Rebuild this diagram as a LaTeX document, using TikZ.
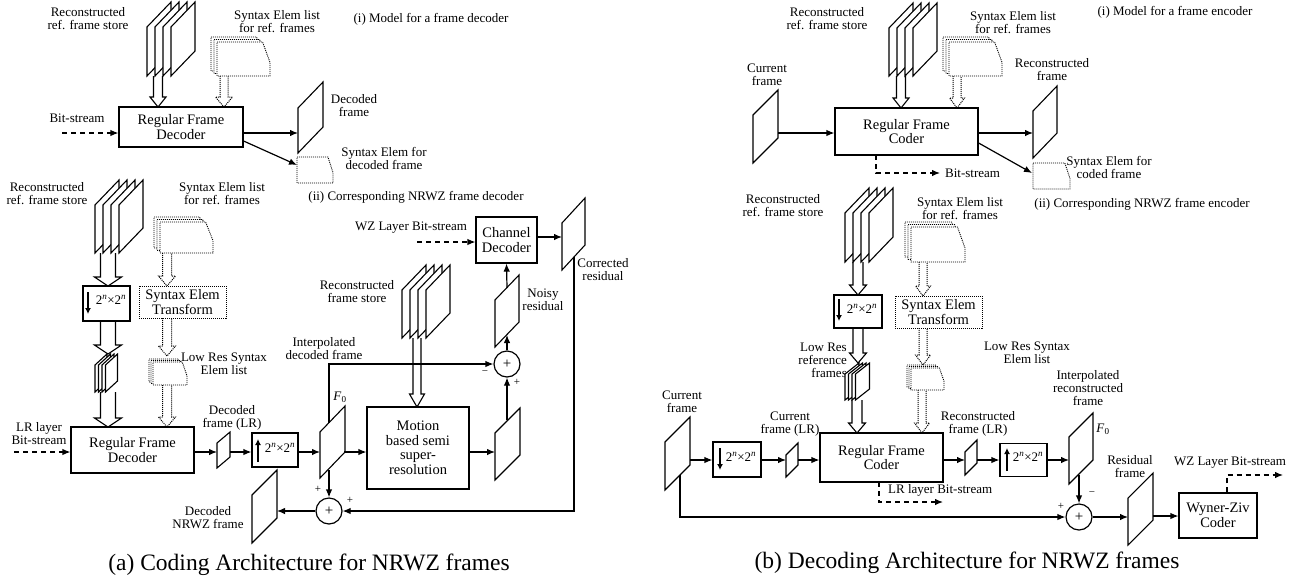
\documentclass[tikz,border=0pt]{standalone}
\usepackage{fontspec}
\setmainfont{Liberation Serif}
\usetikzlibrary{arrows.meta,calc}
\newcommand\pframe[5]{\draw[frm] (#1,#2+#4) -- (#1+#3,#2) -- (#1+#3,#2+#5) -- (#1,#2+#4+#5) -- cycle;}
\newcommand\synshape[4]{\draw[syn] (#1,#2) -- ({#1+0.86*#3},#2) -- (#1+#3,{#2+0.6*#4}) -- (#1+#3,#2+#4) -- (#1,#2+#4) -- cycle;}
\newcommand\synstack[6]{\synshape{#1-2*#5}{#2-2*#6}{#3}{#4}\synshape{#1-#5}{#2-#6}{#3}{#4}\synshape{#1}{#2}{#3}{#4}}
\newcommand\harrow[7]{\draw[#1] ({#2-#5/2},#3) -- ({#2-#5/2},{#4-#7}) -- ({#2-#6/2},{#4-#7}) -- (#2,#4) -- ({#2+#6/2},{#4-#7}) -- ({#2+#5/2},{#4-#7}) -- ({#2+#5/2},#3);}
\newcommand\nn{2\textsuperscript{\textit{n}}×2\textsuperscript{\textit{n}}}
\begin{document}
\begin{tikzpicture}[x=1pt,y=-1pt,
 lab/.style={font=\fontsize{13}{13}\selectfont, align=center, inner sep=0pt},
 sgn/.style={font=\fontsize{11}{11}\selectfont, inner sep=0pt},
 captxt/.style={font=\fontsize{23.5}{24}\selectfont, inner sep=0pt},
 blk/.style={draw, line width=1.2pt, fill=white, align=center, font=\fontsize{14.5}{14.5}\selectfont, inner sep=0pt},
 dblk/.style={blk, line width=1pt, dash pattern=on 1pt off 1pt},
 arr/.style={line width=1.2pt, -{Latex[length=8pt,width=6.5pt]}},
 dsh/.style={arr, dash pattern=on 5pt off 4pt},
 frm/.style={draw, line width=1.1pt, fill=white},
 syn/.style={draw, line width=0.9pt, fill=white, dash pattern=on 1pt off 1pt},
 hol/.style={draw, line width=1.1pt},
 hold/.style={hol, line width=1pt, dash pattern=on 1pt off 1pt},
 inarr/.style={line width=1.4pt, -{Latex[length=6pt,width=6pt]}},
 sumc/.style={circle, draw, line width=1.2pt, minimum size=26pt, inner sep=0pt, font=\fontsize{15}{15}\selectfont},
]
\fill[white] (0,0) rectangle (1300,579);
\useasboundingbox (0,0) rectangle (1300,579);

%% ================= PANEL (a) top =================
\node[lab] at (88,18.5) {Reconstructed\\ref. frame store};
\node[lab] at (277,21.5) {Syntax Elem list\\for ref. frames};
\node[lab] at (431,19) {(i) Model for a frame decoder};
\foreach \i in {0,...,3} {\pframe{147+8*\i}{2}{24}{25}{49}}
\synstack{217}{42}{53}{34}{3}{2.5}
\harrow{hol}{158}{76}{107}{9}{16}{10}
\harrow{hold}{224}{76}{107}{8}{17}{10}
\node[blk, minimum width=124pt, minimum height=40pt] (rfd1) at (181,127) {Regular Frame\\Decoder};
\node[lab] at (77,118) {Bit-stream};
\coordinate (bsA) at (62,133);
\draw[dsh] (bsA) -- (rfd1.west |- bsA);
\pframe{298}{82}{25}{26}{45}
\coordinate (dfA) at (298,133);
\draw[arr] (rfd1.east |- dfA) -- (dfA);
\node[lab] at (354,106) {Decoded\\frame};
\synshape{297}{157}{36}{26}
\coordinate (sdA) at (297,165);
\draw[arr] ($(rfd1.east)+(0,14)$) -- (sdA);
\node[lab] at (384,158.5) {Syntax Elem for\\decoded frame};
\node[lab] at (416,197) {(ii) Corresponding NRWZ frame decoder};

%% ================= PANEL (a) bottom =================
\node[lab] at (47,194) {Reconstructed\\ref. frame store};
\node[lab] at (222,194) {Syntax Elem list\\for ref. frames};
\foreach \i in {0,...,3} {\pframe{95+8*\i}{180}{24}{25}{48}}
\synstack{160}{222}{53}{31}{3}{2.5}
\harrow{hol}{108}{253}{286}{15}{27}{9}
\harrow{hold}{167}{253}{286}{9}{17}{10}
\node[blk, minimum width=47pt, minimum height=35pt] (dnA) at (106.5,303.5) {};
\draw[inarr] (88,292) -- (88,314);
\node[lab] at (111,300) {\nn};
\node[dblk, minimum width=87pt, minimum height=32pt] (trA) at (182.5,302) {Syntax Elem\\Transform};
\harrow{hol}{108}{321}{354}{15}{27}{9}
\harrow{hold}{167}{318}{356}{9}{17}{10}
\foreach \i in {0,...,3} {\pframe{95+3.5*\i}{354}{12}{11}{27}}
\synstack{153}{362}{34}{23}{2}{1.5}
\node[lab] at (224,363.5) {Low Res Syntax\\Elem list};
\harrow{hol}{108}{392}{427}{15}{27}{9}
\harrow{hold}{167}{385}{427}{9}{17}{10}
\node[blk, minimum width=123pt, minimum height=46pt] (rfd2) at (132.5,450) {Regular Frame\\Decoder};
\node[lab] at (39,434) {LR layer\\Bit-stream};
\coordinate (lrin) at (14,452);
\draw[dsh] (lrin) -- (rfd2.west |- lrin);
\pframe{217}{432}{13}{11}{25}
\node[lab] at (232,417.5) {Decoded\\frame (LR)};
\coordinate (lrA) at (217,452);
\coordinate (lrAr) at (230,452);
\draw[arr] (rfd2.east |- lrA) -- (lrA);
\node[blk, minimum width=46pt, minimum height=34pt] (upA) at (275,450) {};
\draw[inarr] (258,462) -- (258,439);
\node[lab] at (280,448) {\nn};
\draw[arr] (lrAr) -- (upA.west |- lrAr);
\pframe{320}{406}{25}{26}{46}
\node at (340,397) {\fontsize{13}{13}\selectfont\textit{F}\textsubscript{0}};
\coordinate (f0Al) at (320,452);
\coordinate (f0Ar) at (344,452);
\coordinate (f0At) at (329,423);
\coordinate (f0Ab) at (329,470);
\draw[arr] (upA.east |- f0Al) -- (f0Al);
% middle stack
\node[lab] at (357,291.5) {Reconstructed\\frame store};
\foreach \i in {0,...,3} {\pframe{402+8*\i}{265}{24}{25}{48}}
\harrow{hol}{417}{338}{407}{8}{15}{13}
\node[blk, minimum width=102pt, minimum height=82pt] (mot) at (418,448) {Motion\\based semi\\super-\\resolution};
\draw[arr] (f0Ar) -- (mot.west |- f0Ar);
\pframe{495}{408}{25}{25}{47}
\coordinate (rpAl) at (495,452);
\coordinate (rpAt) at (507,420);
\draw[arr] (mot.east |- rpAl) -- (rpAl);
\node[sumc] (s1) at (507,364) {+};
\draw[arr] (rpAt) -- (s1.south);
\node[lab] at (324,348.5) {Interpolated\\decoded frame};
\draw[arr] (f0At) -- (329,364) -- (s1.west);
\node[sgn] at (485,373) {−};
\node[sgn] at (517,382) {+};
\pframe{495}{275}{24}{25}{47}
\coordinate (nzb) at (507,335);
\coordinate (nzt) at (507,288);
\draw[arr] (s1.north) -- (nzb);
\node[lab] at (543,299.5) {Noisy\\residual};
\node[blk, minimum width=61pt, minimum height=46pt] (chd) at (506.5,240) {Channel\\Decoder};
\draw[arr] (nzt) -- (chd.south);
\node[lab] at (411,228) {WZ Layer Bit-stream};
\coordinate (wzin) at (417,242);
\draw[dsh] (wzin) -- (chd.west |- wzin);
\pframe{562}{198}{23}{25}{47}
\coordinate (crl) at (562,237);
\draw[arr] (chd.east |- crl) -- (crl);
\node[lab] at (603,270) {Corrected\\residual};
\node[sumc] (s2) at (329,511) {+};
\coordinate (crb) at (574,257);
\draw[arr] (crb) -- (574,511) -- (s2.east);
\draw[arr] (f0Ab) -- (s2.north);
\node[sgn] at (318,489) {+};
\node[sgn] at (350,500) {+};
\pframe{252}{470}{25}{25}{48}
\coordinate (nrA) at (277,511);
\draw[arr] (s2.west) -- (nrA);
\node[lab] at (208,517.5) {Decoded\\NRWZ frame};
\node[captxt] at (309,565) {(a) Coding Architecture for NRWZ frames};

%% ================= PANEL (b) top =================
\node[lab] at (827,18.5) {Reconstructed\\ref. frame store};
\node[lab] at (1013,22.5) {Syntax Elem list\\for ref. frames};
\node[lab] at (1175,12) {(i) Model for a frame encoder};
\foreach \i in {0,...,3} {\pframe{889+8*\i}{3}{24}{25}{48}}
\synstack{949}{42}{53}{34}{3}{2.5}
\harrow{hol}{901}{76}{108}{9}{16}{10}
\harrow{hold}{957}{76}{108}{8}{15}{10}
\node[blk, minimum width=143pt, minimum height=47pt] (rfc1) at (906.5,131.5) {Regular Frame\\Coder};
\node[lab] at (767,74.5) {Current\\frame};
\pframe{753}{90}{25}{25}{48}
\coordinate (cfB) at (778,133);
\draw[arr] (cfB) -- (rfc1.west |- cfB);
\pframe{1033}{86}{24}{25}{47}
\coordinate (rfB) at (1033,133);
\draw[arr] (rfc1.east |- rfB) -- (rfB);
\node[lab] at (1052,70) {Reconstructed\\frame};
\synshape{1033}{163}{37}{26}
\coordinate (scB) at (1032,173);
\draw[arr] ($(rfc1.east)+(0,11.5)$) -- (scB);
\node[lab] at (1109,167.5) {Syntax Elem for\\coded frame};
\coordinate (bsB) at (876,155);
\draw[dsh] (bsB) -- (876,173) -- (940,173);
\node[lab, anchor=west] at (945,173) {Bit-stream};
\node[lab] at (1142,204) {(ii) Corresponding NRWZ frame encoder};

%% ================= PANEL (b) bottom =================
\node[lab] at (783,206) {Reconstructed\\ref. frame store};
\node[lab] at (960,208.5) {Syntax Elem list\\for ref. frames};
\foreach \i in {0,...,3} {\pframe{845+8*\i}{188}{24}{25}{49}}
\synstack{911}{227}{54}{35}{3}{2.5}
\harrow{hol}{858}{262}{295}{10}{17}{10}
\harrow{hold}{923}{262}{296}{8}{15}{10}
\node[blk, minimum width=48pt, minimum height=33pt] (dnB) at (858,311.5) {};
\draw[inarr] (839,299) -- (839,321);
\node[lab] at (862,309) {\nn};
\node[dblk, minimum width=87pt, minimum height=32pt] (trB) at (938.5,312) {Syntax Elem\\Transform};
\harrow{hol}{858}{328}{363}{10}{17}{10}
\harrow{hold}{923}{328}{365}{8}{15}{10}
\node[lab, align=right, anchor=east] at (847,360) {Low Res\\reference\\frames};
\foreach \i in {0,...,3} {\pframe{845+3.5*\i}{363}{14}{11}{26}}
\synstack{911}{368}{33}{22}{2}{1.5}
\node[lab] at (1027,352.5) {Low Res Syntax\\Elem list};
\harrow{hol}{857}{400}{433}{10}{17}{10}
\harrow{hold}{922}{390}{433}{8}{15}{10}
\node[blk, minimum width=123pt, minimum height=49pt] (rfc2) at (881.5,457.5) {Regular Frame\\Coder};
\node[lab] at (682,401.5) {Current\\frame};
\pframe{665}{417}{25}{25}{48}
\coordinate (cfBr) at (690,460);
\coordinate (cfBb) at (680,475);
\node[blk, minimum width=48pt, minimum height=35pt] (dnB2) at (737,459.5) {};
\draw[inarr] (720,448) -- (720,470);
\node[lab] at (741,457) {\nn};
\draw[arr] (cfBr) -- (dnB2.west |- cfBr);
\pframe{786}{443}{12}{12}{22}
\node[lab] at (790,424.5) {Current\\frame (LR)};
\coordinate (clrl) at (786,460);
\coordinate (clrr) at (798,460);
\draw[arr] (dnB2.east |- clrl) -- (clrl);
\draw[arr] (clrr) -- (rfc2.west |- clrr);
\pframe{965}{440}{12}{12}{23}
\node[lab] at (978,423.5) {Reconstructed\\frame (LR)};
\coordinate (rlrl) at (965,460);
\coordinate (rlrr) at (977,460);
\draw[arr] (rfc2.east |- rlrl) -- (rlrl);
\node[blk, minimum width=47pt, minimum height=33pt] (upB) at (1023.5,460) {};
\draw[inarr] (1007,471) -- (1007,448);
\node[lab] at (1028,457) {\nn};
\draw[arr] (rlrr) -- (upB.west |- rlrr);
\pframe{1069}{413}{24}{24}{47}
\node at (1103,429) {\fontsize{13}{13}\selectfont\textit{F}\textsubscript{0}};
\node[lab] at (1088,388.5) {Interpolated\\reconstructed\\frame};
\coordinate (f0Bl) at (1069,460);
\coordinate (f0Bb) at (1079,475);
\draw[arr] (upB.east |- f0Bl) -- (f0Bl);
\node[sumc] (s3) at (1079,517) {+};
\draw[arr] (f0Bb) -- (s3.north);
\draw[arr] (cfBb) -- (680,517) -- (s3.west);
\node[sgn] at (1092,494) {−};
\node[sgn] at (1061,506) {+};
\coordinate (bsB2) at (879,482);
\draw[dsh] (bsB2) -- (879,502) -- (943,502);
\node[lab, anchor=west] at (888,490) {LR layer Bit-stream};
\pframe{1128}{473}{25}{25}{47}
\node[lab] at (1130,466.5) {Residual\\frame};
\coordinate (resl) at (1128,517);
\coordinate (resr) at (1153,516);
\draw[arr] (s3.east) -- (resl);
\node[blk, minimum width=78pt, minimum height=45pt] (wz) at (1218,515.5) {Wyner-Ziv\\Coder};
\draw[arr] (resr) -- (wz.west |- resr);
\coordinate (wzo) at (1227,493);
\draw[dsh] (wz.north -| wzo) -- (1227,475) -- (1283,475);
\node[lab] at (1230,463) {WZ Layer Bit-stream};
\node[captxt] at (967,563) {(b) Decoding Architecture for NRWZ frames};
\end{tikzpicture}
\end{document}
